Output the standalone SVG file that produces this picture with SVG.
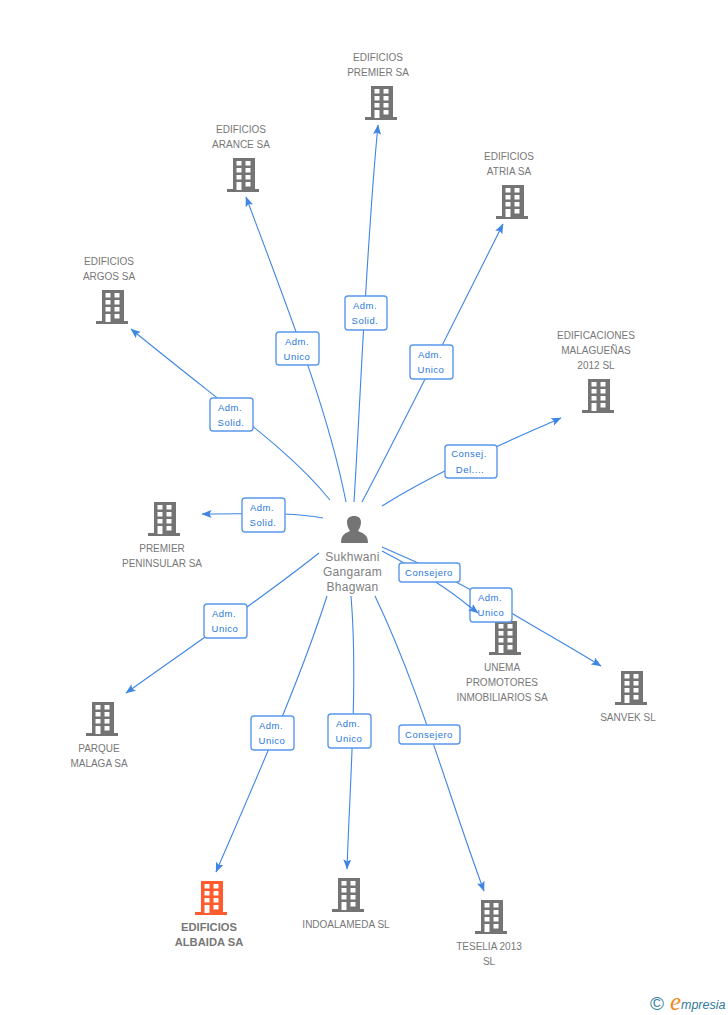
<svg xmlns="http://www.w3.org/2000/svg" width="728" height="1015" viewBox="0 0 728 1015">
<style>
text{font-family:"Liberation Sans",Arial,sans-serif}
.n{font-size:10px;fill:#777;text-anchor:middle}
.b{font-weight:bold;font-size:11.2px}
.p{font-size:12px;fill:#808080;text-anchor:middle;letter-spacing:.3px}
.l{font-size:9.5px;fill:#2a78dc;text-anchor:middle;letter-spacing:.5px}
.c{fill:none;stroke:#3f86e4;stroke-width:1.1}
.r{fill:#fff;stroke:#5a98ea;stroke-width:1.4}
</style>
<defs>
<marker id="a" markerWidth="11" markerHeight="9" refX="9.5" refY="4" orient="auto" markerUnits="userSpaceOnUse"><path d="M0 0L10 4L0 8L2 4Z" fill="#3f86e4"/></marker>
<symbol id="bd" width="32" height="34" viewBox="0 0 32 34"><path fill-rule="evenodd" d="M6 0H28V31H32V34H0V31H6ZM9.5 3V7.5H14.5V3ZM18.5 3V7.5H23.5V3ZM9.5 10V14.5H14.5V10ZM18.5 10V14.5H23.5V10ZM9.5 17V21.5H14.5V17ZM18.5 17V21.5H23.5V17ZM9.5 24V32H14.5V24ZM18.5 24V28.5H23.5V24Z"/></symbol>
</defs>
<rect width="728" height="1015" fill="#fff"/>
<g id="connectors">
<path class="c" marker-end="url(#a)" d="M354 502C361 390 366 250 378 125"/>
<path class="c" marker-end="url(#a)" d="M346 502C330 420 300 340 246 197"/>
<path class="c" marker-end="url(#a)" d="M362 502C400 430 450 330 503 224"/>
<path class="c" marker-end="url(#a)" d="M330 500C290 450 230 410 131 329"/>
<path class="c" marker-end="url(#a)" d="M382 506C440 470 500 445 561 418"/>
<path class="c" marker-end="url(#a)" d="M323 518C290 512 260 514 202 514"/>
<path class="c" d="M382 551C405 563 440 582 470 607"/>
<path class="c" marker-end="url(#a)" d="M382 547C425 565 470 588 513 614C545 633 575 650 601 666"/>
<path class="c" marker-end="url(#a)" d="M319 553C260 600 200 640 126 693"/>
<path class="c" marker-end="url(#a)" d="M327 596C300 680 260 770 216 872"/>
<path class="c" marker-end="url(#a)" d="M351 596C358 680 350 780 347 869"/>
<path class="c" marker-end="url(#a)" d="M375 596C420 690 450 800 484 891"/>
</g>
<g id="n-premier" fill="#747474"><use href="#bd" x="365" y="86"/><text class="n" x="378" y="61">EDIFICIOS</text><text class="n" x="378" y="76">PREMIER SA</text></g>
<g id="n-arance" fill="#747474"><use href="#bd" x="227" y="158"/><text class="n" x="241" y="133">EDIFICIOS</text><text class="n" x="241" y="148">ARANCE SA</text></g>
<g id="n-atria" fill="#747474"><use href="#bd" x="496" y="185"/><text class="n" x="509" y="160">EDIFICIOS</text><text class="n" x="509" y="175">ATRIA SA</text></g>
<g id="n-argos" fill="#747474"><use href="#bd" x="96" y="290"/><text class="n" x="109" y="265">EDIFICIOS</text><text class="n" x="109" y="280">ARGOS SA</text></g>
<g id="n-malaguenas" fill="#747474"><use href="#bd" x="582" y="379"/><text class="n" x="596" y="339">EDIFICACIONES</text><text class="n" x="596" y="354">MALAGUEÑAS</text><text class="n" x="596" y="369">2012 SL</text></g>
<g id="n-peninsular" fill="#747474"><use href="#bd" x="148" y="502"/><text class="n" x="162" y="552">PREMIER</text><text class="n" x="162" y="567">PENINSULAR SA</text></g>
<g id="n-unema" fill="#747474"><use href="#bd" x="489" y="621"/><text class="n" x="502" y="671">UNEMA</text><text class="n" x="502" y="686">PROMOTORES</text><text class="n" x="502" y="701">INMOBILIARIOS SA</text></g>
<g id="n-sanvek" fill="#747474"><use href="#bd" x="615" y="671"/><text class="n" x="628" y="721">SANVEK SL</text></g>
<g id="n-parque" fill="#747474"><use href="#bd" x="86" y="702"/><text class="n" x="99" y="752">PARQUE</text><text class="n" x="99" y="767">MALAGA SA</text></g>
<g id="n-albaida" fill="#ff5b2e"><use href="#bd" x="195" y="881"/><text class="n b" x="209" y="931">EDIFICIOS</text><text class="n b" x="209" y="946">ALBAIDA SA</text></g>
<g id="n-indoalameda" fill="#747474"><use href="#bd" x="332" y="878"/><text class="n" x="346" y="928">INDOALAMEDA SL</text></g>
<g id="n-teselia" fill="#747474"><use href="#bd" x="475" y="900"/><text class="n" x="489" y="950">TESELIA 2013</text><text class="n" x="489" y="965">SL</text></g>
<g id="n-person"><path fill="#747474" d="M341 543C341 534 346 533 350 531C348 528 347 525 347 522C347 518 350 516 354 516C358 516 361 518 361 522C361 525 360 528 358 531C362 533 368 534 368 543Z"/><text class="p" x="352.5" y="561">Sukhwani</text><text class="p" x="352.5" y="576">Gangaram</text><text class="p" x="352.5" y="591">Bhagwan</text></g>
<g id="labels">
<g id="l1"><rect class="r" x="345" y="296" width="42" height="34" rx="3"/><text class="l" x="365" y="309">Adm.</text><text class="l" x="365" y="324">Solid.</text></g>
<g id="l2"><rect class="r" x="276" y="332" width="43" height="33" rx="3"/><text class="l" x="297" y="345">Adm.</text><text class="l" x="297" y="360">Unico</text></g>
<g id="l3"><rect class="r" x="410" y="345" width="43" height="34" rx="3"/><text class="l" x="430" y="358">Adm.</text><text class="l" x="431" y="373">Unico</text></g>
<g id="l4"><rect class="r" x="210" y="398" width="43" height="33" rx="3"/><text class="l" x="230" y="411">Adm.</text><text class="l" x="231" y="426">Solid.</text></g>
<g id="l5"><rect class="r" x="445" y="445" width="52" height="33" rx="3"/><text class="l" x="469" y="457">Consej.</text><text class="l" x="470" y="473">Del....</text></g>
<g id="l6"><rect class="r" x="242" y="498" width="43" height="34" rx="3"/><text class="l" x="262" y="511">Adm.</text><text class="l" x="263" y="526">Solid.</text></g>
<g id="l7"><rect class="r" x="399" y="563" width="61" height="19" rx="3"/><text class="l" x="429" y="576">Consejero</text></g>
<g id="l8"><rect class="r" x="470" y="588" width="42" height="34" rx="3"/><text class="l" x="490" y="601">Adm.</text><text class="l" x="491" y="616">Unico</text></g>
<g id="l9"><rect class="r" x="204" y="604" width="43" height="34" rx="3"/><text class="l" x="224" y="617">Adm.</text><text class="l" x="225" y="632">Unico</text></g>
<g id="l10"><rect class="r" x="251" y="716" width="43" height="34" rx="3"/><text class="l" x="271" y="729">Adm.</text><text class="l" x="272" y="744">Unico</text></g>
<g id="l11"><rect class="r" x="328" y="714" width="43" height="34" rx="3"/><text class="l" x="348" y="727">Adm.</text><text class="l" x="349" y="742">Unico</text></g>
<g id="l12"><rect class="r" x="399" y="725" width="61" height="19" rx="3"/><text class="l" x="429" y="738">Consejero</text></g>
</g>
<g id="connector-top"><path class="c" marker-end="url(#a)" d="M469 606L478 613"/></g>
<g id="logo"><text x="657" y="1010" font-size="19" fill="#3a7f9e" text-anchor="middle">©</text><text x="670" y="1010" font-size="25" fill="#f28a1c" font-style="italic" style="font-family:'Liberation Serif',serif">e</text><text x="681" y="1009" font-size="12.5" fill="#2f7a9a" font-style="italic">mpresia</text></g>
</svg>
